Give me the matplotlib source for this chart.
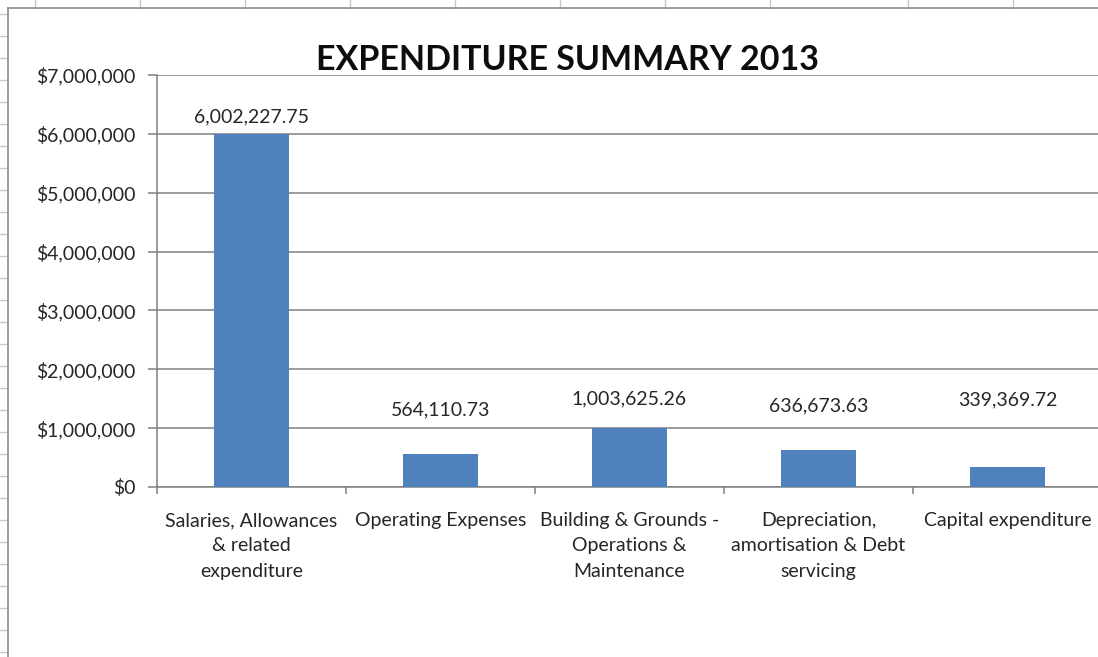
import matplotlib
matplotlib.use("Agg")
import matplotlib.pyplot as plt
from matplotlib.lines import Line2D
from matplotlib.ticker import FuncFormatter

# expenditure per category, 2013
categories = [
    "Salaries, Allowances\n& related\nexpenditure",
    "Operating Expenses",
    "Building & Grounds -\nOperations &\nMaintenance",
    "Depreciation,\namortisation & Debt\nservicing",
    "Capital expenditure",
]
amounts = [6002227.75, 564110.73, 1003625.26, 636673.63, 339369.72]
y_ticks = [0, 1000000, 2000000, 3000000, 4000000, 5000000, 6000000, 7000000]

# how far each value label was dragged above its bar (pixels)
label_lift = [17, 44, 29, 44, 67]

font = ["Lato", "DejaVu Sans"]
plt.rcParams["font.family"] = font
fs = 14

W, H = 1098, 657
fig = plt.figure(figsize=(W / 100, H / 100), dpi=100)
fig.patch.set_facecolor("white")

# spreadsheet cells peeking out behind the chart
grid_col = "#c8c8c8"
for x in [35, 140, 245, 350, 455, 560, 665, 770, 908, 1013]:
    fig.add_artist(Line2D([x / W, x / W], [1, 1 - 8 / H], color=grid_col, lw=1))
for y in range(14, H, 22):
    fig.add_artist(Line2D([0, 7 / W], [1 - y / H, 1 - y / H], color=grid_col, lw=1))
fig.add_artist(Line2D([8 / W, 8 / W], [0, 1 - 8 / H], color="#8c8c8c", lw=1.2))
fig.add_artist(Line2D([8 / W, 1], [1 - 8 / H, 1 - 8 / H], color="#8c8c8c", lw=1.2))

left, right = 157, 157 + 5 * 189
top, bottom = 75, 487
ax = fig.add_axes([left / W, 1 - bottom / H, (right - left) / W, (bottom - top) / H])

xs = list(range(len(categories)))
bars = ax.bar(xs, amounts, width=0.4, color="#4f81bd", zorder=3)

ax.set_xlim(-0.5, len(categories) - 0.5)
ax.set_ylim(0, 7000000)
ax.set_yticks(y_ticks)
ax.yaxis.set_major_formatter(FuncFormatter(lambda v, p: "${:,.0f}".format(v)))
ax.yaxis.grid(True, color="#808080", lw=1.1, zorder=0)

ax.set_xticks([i - 0.5 for i in range(len(categories) + 1)], minor=False)
ax.set_xticklabels([])
ax.set_xticks(xs, minor=True)
ax.set_xticklabels(categories, minor=True, fontsize=fs, color="#262626",
                   linespacing=1.6, va="top")
ax.tick_params(axis="x", which="minor", length=0, pad=18)
ax.tick_params(axis="x", which="major", length=5, color="#808080", width=1.1)
ax.tick_params(axis="y", length=6.5, color="#808080", width=1.1, labelsize=fs,
               labelcolor="#262626", pad=9)

for s in ["top", "right"]:
    ax.spines[s].set_visible(False)
for s in ["left", "bottom"]:
    ax.spines[s].set_color("#808080")
    ax.spines[s].set_linewidth(1.1)

for b, v, lift in zip(bars, amounts, label_lift):
    ax.annotate("{:,.2f}".format(v), (b.get_x() + b.get_width() / 2, v),
                xytext=(0, lift), textcoords="offset pixels",
                ha="center", va="center", fontsize=fs, color="#262626")

fig.text(567 / W, 1 - 60 / H, "EXPENDITURE SUMMARY 2013", ha="center", va="center",
         fontsize=24.5, fontweight="bold", color="#0d0d0d")

fig.savefig("out.png", dpi=100, facecolor="white")
